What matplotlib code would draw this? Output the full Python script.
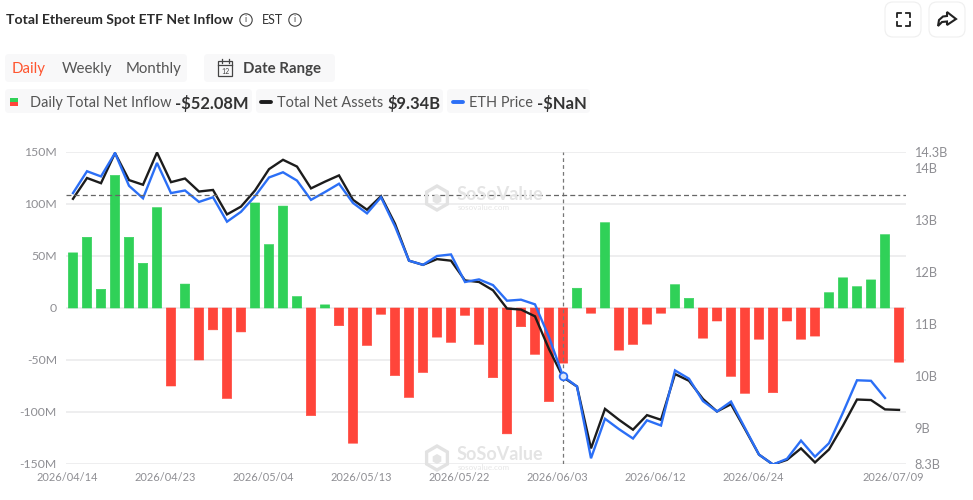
import matplotlib
matplotlib.use("Agg")
import matplotlib.pyplot as plt
from matplotlib.patches import FancyBboxPatch, RegularPolygon, Circle, Rectangle, Polygon
from matplotlib.lines import Line2D
from matplotlib.transforms import ScaledTranslation

W, H = 973, 500
plt.rcParams['font.family'] = ['Lato', 'DejaVu Sans']

net_inflow = [53, 68, 18, 127.5, 68, 43, 96.5, -75, 23, -50, -21, -87, -23, 101, 61, 98, 11,
              -103.5, 3, -17, -130, -36, -6, -65, -86, -62, -28, -33, -7, -35, -67, -121,
              -18, -44.5, -90, -53, 19, -5, 82, -40.5, -35, -15.5, -5, 22.4, 9.3, -29, -12.5,
              -65.7, -82, -30, -81.4, -12.5, -30, -27, 14.7, 29, 20.5, 27, 70.5, -52.08]
net_assets = [13.40, 13.80, 13.70, 14.28, 13.76, 13.67, 14.29, 13.72, 13.79, 13.54, 13.57, 13.10,
              13.25, 13.56, 13.97, 14.15, 14.02, 13.60, 13.73, 13.85, 13.38, 13.19, 13.45, 12.92,
              12.21, 12.13, 12.24, 12.21, 11.83, 11.80, 11.64, 11.29, 11.27, 11.14, 10.51, 9.97,
              9.79, 8.60, 9.36, 9.15, 8.96, 9.24, 9.15, 10.03, 9.90, 9.55, 9.31, 9.45, 8.97,
              8.48, 8.29, 8.38, 8.60, 8.33, 8.58, 9.04, 9.54, 9.53, 9.35, 9.34]
eth_price = [13.51, 13.93, 13.83, 14.28, 13.65, 13.41, 14.09, 13.51, 13.56, 13.34, 13.43, 12.96,
             13.15, 13.45, 13.81, 13.91, 13.75, 13.38, 13.53, 13.69, 13.32, 13.12, 13.43, 12.87,
             12.21, 12.13, 12.30, 12.33, 11.80, 11.85, 11.74, 11.44, 11.46, 11.37, 10.74, 9.99,
             9.79, 8.41, 9.17, 8.97, 8.79, 9.14, 9.04, 10.10, 9.94, 9.51, 9.31, 9.50, 8.99,
             8.48, 8.29, 8.40, 8.75, 8.44, 8.70, 9.29, 9.91, 9.90, 9.57]
date_ticks = [0, 7, 14, 21, 28, 35, 42, 49, 59]
date_labels = ['2026/04/14', '2026/04/23', '2026/05/04', '2026/05/13', '2026/05/22',
               '2026/06/03', '2026/06/12', '2026/06/24', '2026/07/09']
left_ticks = [-150, -100, -50, 0, 50, 100, 150]
left_labels = ['-150M', '-100M', '-50M', '0', '50M', '100M', '150M']
right_ticks = [8.3, 9, 10, 11, 12, 13, 14, 14.3]
right_labels = ['8.3B', '9B', '10B', '11B', '12B', '13B', '14B', '14.3B']
pointer_index = 35
pointer_level = 13.48

GREEN, RED, BLUE, BLACK = '#30D158', '#FF453A', '#2B6FF6', '#1C1C1C'
GREY = '#8E8E93'

fig = plt.figure(figsize=(W / 100, H / 100), dpi=100, facecolor='white')
ax = fig.add_axes([66 / W, 1 - 464 / H, 840 / W, 312 / H])
ax.set_xlim(-0.5, 59.5)
ax.set_ylim(-150, 150)
ax.set_facecolor('none')
for s in ax.spines.values():
    s.set_visible(False)
ax.set_yticks(left_ticks, left_labels)
ax.tick_params(axis='y', length=0, pad=6.5, labelsize=8.8, labelcolor=GREY)
ax.tick_params(axis='x', length=0, pad=6, labelsize=7.9, labelcolor=GREY)
ax.set_xticks(date_ticks, date_labels)
offset = ScaledTranslation(-6 / 100, 0, fig.dpi_scale_trans)
for lab in ax.get_xticklabels():
    lab.set_transform(lab.get_transform() + offset)
ax.grid(axis='y', color='#E9E9EB', lw=1.1, zorder=0)
ax.set_axisbelow(True)

colors = [GREEN if v >= 0 else RED for v in net_inflow]
bars = ax.bar(range(len(net_inflow)), net_inflow, width=9.4 / 14, color=colors, edgecolor=colors,
              linewidth=0.4, joinstyle='round', zorder=2)
for b in bars:
    b.set_snap(False)

ax2 = ax.twinx()
ax2.set_xlim(-0.5, 59.5)
ax2.set_ylim(8.3, 14.3)
ax2.set_facecolor('none')
for s in ax2.spines.values():
    s.set_visible(False)
ax2.set_yticks(right_ticks, right_labels)
ax2.tick_params(axis='y', length=0, pad=5.8, labelsize=9.2, labelcolor=GREY)
ax2.plot(range(len(net_assets)), net_assets, color=BLACK, lw=1.7, zorder=3, solid_joinstyle='miter')
ax2.plot(range(len(eth_price)), eth_price, color=BLUE, lw=1.7, zorder=4, solid_joinstyle='miter')
ax2.axvline(pointer_index, color='#777777', lw=0.9, ls=(0, (3, 2.5)), zorder=5)
ax2.axhline(pointer_level, color='#666666', lw=0.9, ls=(0, (4, 2.5)), zorder=5)
ax2.plot([pointer_index], [eth_price[pointer_index]], 'o', ms=5.5, mfc='#DDE7FB', mec=BLUE, mew=1.3, zorder=6)

# page overlay in pixel coordinates
ov = fig.add_axes([0, 0, 1, 1], zorder=10)
ov.set_xlim(0, W)
ov.set_ylim(H, 0)
ov.axis('off')
ov.patch.set_alpha(0)


def rbox(x, y, w, h, fc='#F8F8F9', ec='none', r=4):
    ov.add_patch(FancyBboxPatch((x + r, y + r), w - 2 * r, h - 2 * r,
                                boxstyle=f'round,pad={r}', fc=fc, ec=ec, lw=0.8, zorder=0))


def txt(x, y, s, size=10, color='#333333', weight='normal', ha='left'):
    ov.text(x, y, s, fontsize=size * 0.72, color=color, fontweight=weight, ha=ha, va='center')


def info(x, y):
    ov.add_patch(Circle((x, y), 6.2, fc='none', ec='#444444', lw=0.8))
    ov.text(x, y, 'i', fontsize=6.5, color='#444444', ha='center', va='center')


txt(6, 20, 'Total Ethereum Spot ETF Net Inflow', 14, '#2B2B2B', 'bold')
info(246, 20)
txt(262, 20, 'EST', 12.5, '#333333')
info(295, 20)

rbox(5, 54, 182, 28)
rbox(204, 54, 131, 28)
txt(12, 69, 'Daily', 15, '#FF5630')
txt(62, 69, 'Weekly', 15, '#555555')
txt(126, 69, 'Monthly', 15, '#555555')
txt(243, 69, 'Date Range', 15, '#444444', 'bold')
# calendar icon
ov.add_patch(Rectangle((218, 61), 14, 15, fc='none', ec='#444444', lw=0.9))
ov.add_line(Line2D([218, 232], [65, 65], color='#444444', lw=0.9))
ov.add_line(Line2D([221.5, 221.5], [59, 62.5], color='#444444', lw=0.9))
ov.add_line(Line2D([228.5, 228.5], [59, 62.5], color='#444444', lw=0.9))
ov.text(225, 71, '12', fontsize=5, color='#444444', ha='center', va='center')

rbox(5, 89, 247, 24)
rbox(256, 89, 187, 24)
rbox(447, 89, 143, 24)
ov.add_patch(Rectangle((10, 98), 8, 4, fc=GREEN, ec='none'))
ov.add_patch(Rectangle((10, 102), 8, 4, fc=RED, ec='none'))
txt(30, 103, 'Daily Total Net Inflow', 14.5, '#555555')
txt(174.5, 103, '-$52.08M', 16.5, '#333333', 'bold')
ov.add_line(Line2D([261, 271], [102, 102], color=BLACK, lw=2.8, solid_capstyle='round'))
txt(277, 103, 'Total Net Assets', 14.5, '#555555')
txt(387, 103, '$9.34B', 16.5, '#333333', 'bold')
ov.add_line(Line2D([453, 463], [102, 102], color=BLUE, lw=2.8, solid_capstyle='round'))
txt(469, 103, 'ETH Price', 14.5, '#555555')
txt(537, 103, '-$NaN', 16.5, '#333333', 'bold')

# watermarks
for wy in (198, 458):
    ov.add_patch(RegularPolygon((437, wy), 6, radius=12, fc='none', ec='#E2E2E2', lw=2.4, zorder=1))
    ov.add_patch(RegularPolygon((437, wy + 1), 6, radius=5, fc='#E4E4E4', ec='none', zorder=1))
    txt(457, wy - 3, 'SoSoValue', 18, '#E4E4E4', 'bold')
    txt(458, wy + 9.5, 'sosovalue.com', 8, '#E6E6E6')

# top right buttons
rbox(885, 2, 36, 35, fc='white', ec='#EFEFEF', r=8)
rbox(929, 2, 36, 35, fc='white', ec='#EFEFEF', r=8)
for (x0, y0, dx, dy) in [(897, 13, 1, 1), (910, 13, -1, 1), (897, 26, 1, -1), (910, 26, -1, -1)]:
    ov.add_line(Line2D([x0 + 4 * dx, x0, x0], [y0, y0, y0 + 4 * dy], color='#222222', lw=1.3))
ov.add_patch(Polygon([(947, 12), (956, 19), (947, 25), (947, 21.5), (942, 22), (938, 26),
                      (939, 20), (943, 16.5), (947, 16)], closed=True, fc='none', ec='#222222', lw=1.5))

fig.savefig('out.png', dpi=100, facecolor='white')
